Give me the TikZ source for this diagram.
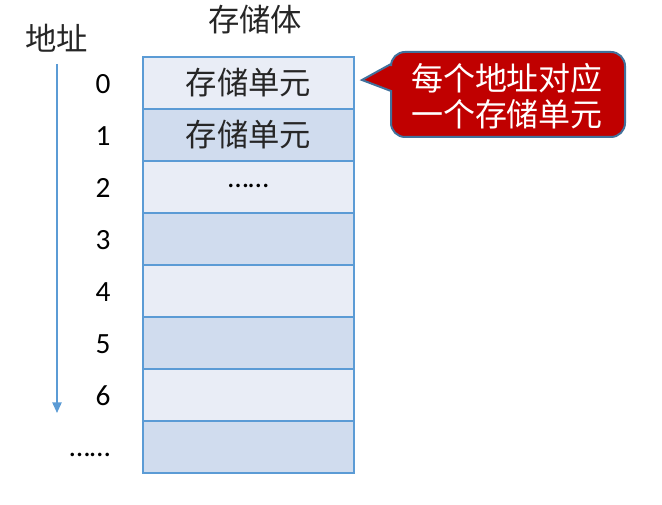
\documentclass[tikz,border=0pt]{standalone}
\usepackage{fontspec}
\setmainfont{Carlito}
\newfontfamily\cjk{Noto Sans CJK SC}
\usetikzlibrary{arrows.meta}
\definecolor{rowA}{HTML}{E9EDF6}
\definecolor{rowB}{HTML}{D0DCEE}
\definecolor{cellline}{HTML}{5B9BD5}
\definecolor{arrowc}{HTML}{5B9BD5}
\definecolor{calloutfill}{HTML}{C00000}
\definecolor{calloutline}{HTML}{41719C}
\tikzset{
  cellA/.style={draw=cellline, line width=2.8pt*0.75, fill=rowA, minimum width=211*0.75pt, minimum height=52*0.75pt, inner sep=0pt, outer sep=0pt},
  cellB/.style={cellA, fill=rowB},
  celltext/.style={font=\cjk\fontsize{23.5}{25}\selectfont, text=black!85},
  addr/.style={font=\fontsize{22}{24}\selectfont, inner sep=0pt},
  title/.style={font=\cjk\fontsize{23.5}{25}\selectfont, text=black!85, inner sep=0pt},
  bubbletext/.style={font=\cjk\fontsize{24}{27}\selectfont, text=white, align=center, inner sep=0pt}
}
\begin{document}
\begin{tikzpicture}[x=0.75pt,y=-0.75pt]
\useasboundingbox (0,0) rectangle (662,505);
% cells
\foreach \i/\s in {0/cellA,1/cellB,2/cellA,3/cellB,4/cellA,5/cellB,6/cellA,7/cellB}{
  \node[\s] (c\i) at (248.5,{83+52*\i}) {};
}
\node[celltext] (t0) at (c0) {存储单元};
\node[celltext] (t1) at (c1) {存储单元};
\node[addr] (t2) at ([yshift=1pt]c2) {……};
% address numbers
\foreach \i in {0,...,6}{
  \node[addr] (n\i) at (103,{84+52*\i}) {\i};
}
\node[addr] (ndots) at (90,455) {……};
% titles
\node[title] (addrtitle) at (57,38) {地址};
\node[title] (memtitle) at (255,20) {存储体};
% arrow
\coordinate (as) at (57,64);
\coordinate (ae) at (57,413);
\draw[arrowc, line width=1.5pt*0.75, -{Triangle[length=8pt, width=7pt]}] (as) -- (ae);
% callout
\coordinate (tip) at (362,80);
\draw[fill=calloutfill, draw=calloutline, line width=2pt*0.75]
  (391,91) [rounded corners=14*0.75pt] -- (391,137) -- (625,137) -- (625,52) -- (391,52) [sharp corners] -- (391,64) -- (tip) -- cycle;
\node[bubbletext] (bubble) at (507,96) {每个地址对应\\一个存储单元};
\end{tikzpicture}
\end{document}
